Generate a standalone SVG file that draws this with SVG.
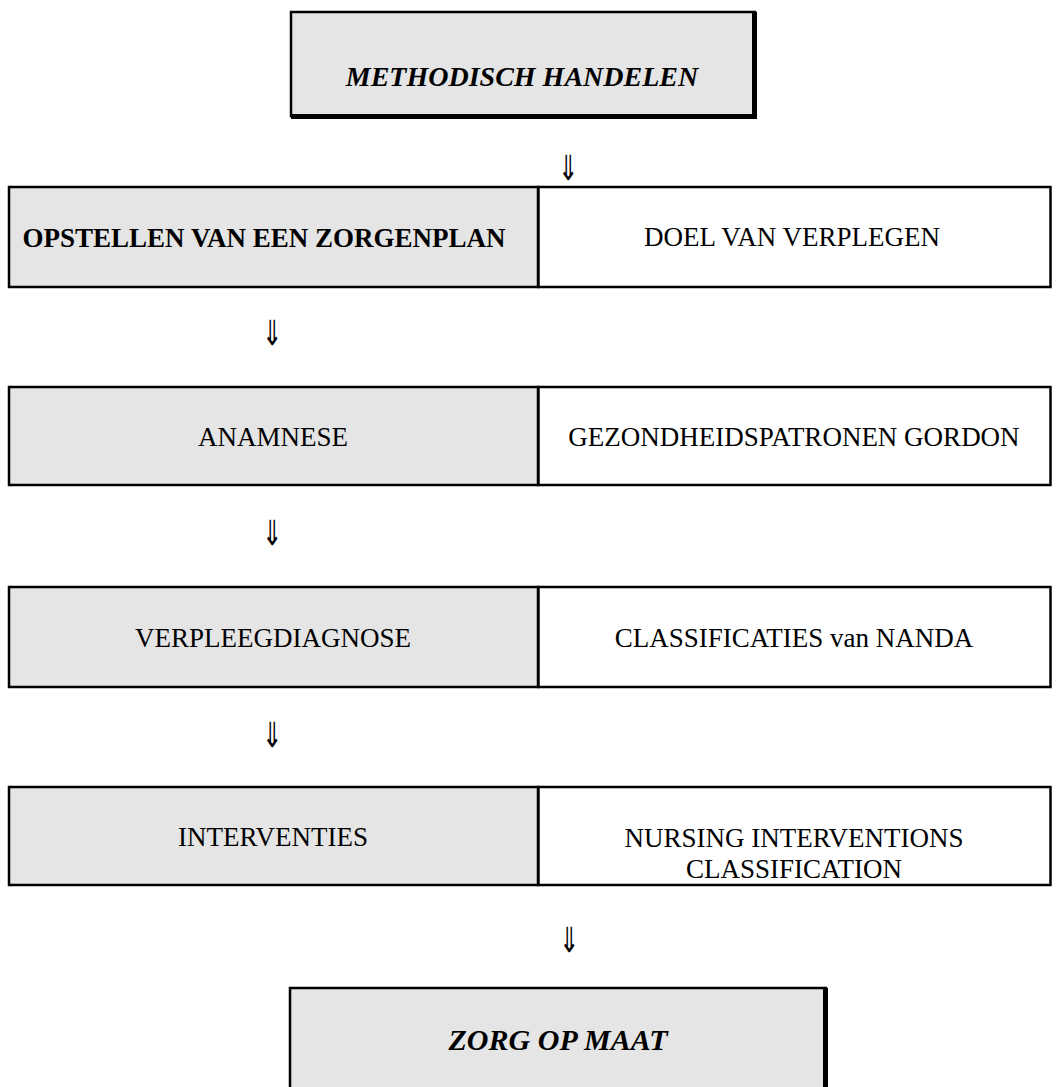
<svg xmlns="http://www.w3.org/2000/svg" width="1060" height="1087" viewBox="0 0 1060 1087">
<style>
.g{fill:#e5e5e5;stroke:#000;stroke-width:2.5}
.w{fill:#fff;stroke:#000;stroke-width:2.5}
.sh{fill:none;stroke:#000;stroke-width:5}
text{font-family:"Liberation Serif","Times New Roman",serif;font-size:27px;fill:#000;text-anchor:middle}
.bi{font-weight:bold;font-style:italic;font-size:28px}
.bi2{font-weight:bold;font-style:italic;font-size:30px}
.b{font-weight:bold}
.ar{font-family:"DejaVu Sans","DejaVu Serif",sans-serif;font-size:24px}
</style>
<rect width="1060" height="1087" fill="#fff"/>
<g id="methodisch">
<rect class="g" x="291" y="12" width="464" height="104"/>
<path class="sh" d="M754.5 12 V116.5 H291"/>
<text class="bi" x="522" y="86">METHODISCH HANDELEN</text>
</g>
<g id="connectors">
<text class="ar" transform="translate(568,180) scale(1,1.45)">⇓</text>
<text class="ar" transform="translate(272,345) scale(1,1.45)">⇓</text>
<text class="ar" transform="translate(272,545) scale(1,1.45)">⇓</text>
<text class="ar" transform="translate(272,747) scale(1,1.45)">⇓</text>
<text class="ar" transform="translate(569,952) scale(1,1.45)">⇓</text>
</g>
<g id="zorgenplan">
<rect class="g" x="9" y="187" width="529" height="100"/>
<text class="b" x="264" y="247">OPSTELLEN VAN EEN ZORGENPLAN</text>
</g>
<g id="doel">
<rect class="w" x="538.5" y="187" width="512" height="100"/>
<text x="792" y="246">DOEL VAN VERPLEGEN</text>
</g>
<g id="anamnese">
<rect class="g" x="9" y="387" width="529" height="98"/>
<text x="273" y="446">ANAMNESE</text>
</g>
<g id="gordon">
<rect class="w" x="538.5" y="387" width="512" height="98"/>
<text x="794" y="446">GEZONDHEIDSPATRONEN GORDON</text>
</g>
<g id="verpleegdiagnose">
<rect class="g" x="9" y="587" width="529" height="100"/>
<text x="273" y="647">VERPLEEGDIAGNOSE</text>
</g>
<g id="nanda">
<rect class="w" x="538.5" y="587" width="512" height="100"/>
<text x="794" y="647">CLASSIFICATIES van NANDA</text>
</g>
<g id="interventies">
<rect class="g" x="9" y="787" width="529" height="98"/>
<text x="273" y="846">INTERVENTIES</text>
</g>
<g id="nic">
<rect class="w" x="538.5" y="787" width="512" height="98"/>
<text x="794" y="847">NURSING INTERVENTIONS</text>
<text x="794" y="878">CLASSIFICATION</text>
</g>
<g id="zorgopmaat">
<rect class="g" x="290" y="988" width="536" height="110"/>
<path class="sh" d="M825.5 988 V1100"/>
<text class="bi2" x="558" y="1050">ZORG OP MAAT</text>
</g>
</svg>
